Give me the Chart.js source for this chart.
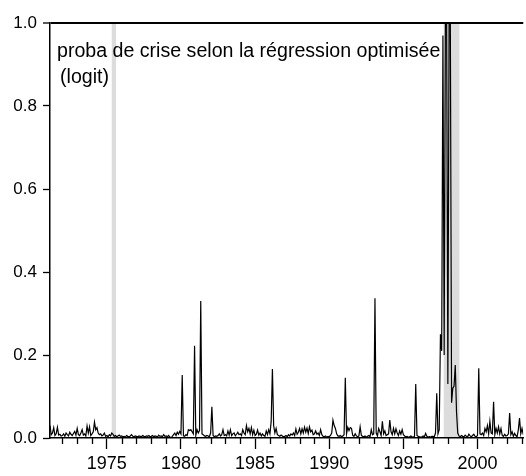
<!DOCTYPE html>
<html>
<head>
<meta charset="utf-8">
<script src="https://cdn.jsdelivr.net/npm/chart.js@4"></script>
<style>
  html, body { margin: 0; padding: 0; background: #fff; overflow: hidden; }
  #wrap { width: 526px; height: 476px; position: relative; }
</style>
</head>
<body>
<div id="wrap"><canvas id="chart"></canvas></div>
<script>
// monthly series, first observation 1971m03
const startYear = 1971;
const startMonth = 3;

const proba = [
  /* 1971 m03-m12 */ 0.030, 0.008, 0.012, 0.025, 0.006, 0.010, 0.026, 0.007, 0.009, 0.005,
  /* 1972 */ 0.006, 0.010, 0.004, 0.012, 0.008, 0.005, 0.014, 0.009, 0.006, 0.011, 0.016, 0.007,
  /* 1973 */ 0.023, 0.008, 0.006, 0.012, 0.020, 0.007, 0.010, 0.005, 0.029, 0.012, 0.027, 0.006,
  /* 1974 */ 0.010, 0.015, 0.038, 0.020, 0.025, 0.012, 0.008, 0.010, 0.005, 0.007, 0.012, 0.004,
  /* 1975 */ 0.006, 0.003, 0.008, 0.005, 0.012, 0.009, 0.004, 0.006, 0.003, 0.005, 0.007, 0.004,
  /* 1976 */ 0.005, 0.003, 0.004, 0.002, 0.006, 0.004, 0.003, 0.005, 0.008, 0.004, 0.003, 0.005,
  /* 1977 */ 0.004, 0.003, 0.005, 0.004, 0.003, 0.006, 0.004, 0.003, 0.005, 0.004, 0.006, 0.003,
  /* 1978 */ 0.004, 0.006, 0.003, 0.005, 0.004, 0.003, 0.007, 0.004, 0.005, 0.003, 0.008, 0.004,
  /* 1979 */ 0.005, 0.003, 0.006, 0.002, 0.001, 0.004, 0.008, 0.012, 0.006, 0.014, 0.009, 0.016,
  /* 1980 */ 0.010, 0.152, 0.005, 0.004, 0.008, 0.006, 0.020, 0.018, 0.020, 0.015, 0.010, 0.222,
  /* 1981 */ 0.006, 0.020, 0.012, 0.018, 0.330, 0.010, 0.008, 0.005, 0.004, 0.006, 0.005, 0.003,
  /* 1982 */ 0.012, 0.075, 0.006, 0.003, 0.005, 0.004, 0.006, 0.010, 0.005, 0.008, 0.020, 0.006,
  /* 1983 */ 0.008, 0.005, 0.017, 0.007, 0.020, 0.006, 0.010, 0.012, 0.005, 0.009, 0.014, 0.008,
  /* 1984 */ 0.010, 0.006, 0.020, 0.012, 0.008, 0.030, 0.015, 0.023, 0.010, 0.025, 0.008, 0.019,
  /* 1985 */ 0.006, 0.009, 0.019, 0.007, 0.012, 0.005, 0.010, 0.006, 0.004, 0.017, 0.008, 0.020,
  /* 1986 */ 0.010, 0.040, 0.166, 0.030, 0.012, 0.023, 0.008, 0.006, 0.004, 0.007, 0.005, 0.003,
  /* 1987 */ 0.004, 0.006, 0.003, 0.008, 0.005, 0.010, 0.007, 0.012, 0.006, 0.022, 0.009, 0.014,
  /* 1988 */ 0.023, 0.010, 0.022, 0.012, 0.026, 0.014, 0.024, 0.011, 0.027, 0.015, 0.019, 0.008,
  /* 1989 */ 0.010, 0.017, 0.009, 0.012, 0.006, 0.020, 0.008, 0.004, 0.003, 0.005, 0.002, 0.004,
  /* 1990 */ 0.003, 0.006, 0.012, 0.043, 0.030, 0.023, 0.010, 0.005, 0.004, 0.006, 0.003, 0.005,
  /* 1991 */ 0.008, 0.145, 0.010, 0.026, 0.018, 0.025, 0.023, 0.006, 0.004, 0.010, 0.005, 0.003,
  /* 1992 */ 0.005, 0.027, 0.006, 0.004, 0.003, 0.005, 0.002, 0.004, 0.006, 0.003, 0.020, 0.008,
  /* 1993 */ 0.010, 0.337, 0.012, 0.005, 0.023, 0.015, 0.006, 0.040, 0.010, 0.017, 0.006, 0.008,
  /* 1994 */ 0.010, 0.043, 0.015, 0.008, 0.023, 0.010, 0.022, 0.012, 0.006, 0.017, 0.009, 0.020,
  /* 1995 */ 0.008, 0.005, 0.003, 0.004, 0.002, 0.003, 0.005, 0.003, 0.002, 0.004, 0.130, 0.006,
  /* 1996 */ 0.004, 0.003, 0.002, 0.003, 0.005, 0.003, 0.011, 0.004, 0.002, 0.003, 0.002, 0.004,
  /* 1997 */ 0.004, 0.003, 0.012, 0.108, 0.010, 0.020, 0.250, 0.210, 0.970, 0.200, 1.000, 1.000,
  /* 1998 */ 0.130, 1.000, 1.000, 0.085, 0.120, 0.125, 0.176, 0.063, 0.012, 0.005, 0.003, 0.006,
  /* 1999 */ 0.004, 0.003, 0.007, 0.004, 0.003, 0.009, 0.005, 0.003, 0.006, 0.009, 0.004, 0.003,
  /* 2000 */ 0.006, 0.168, 0.010, 0.008, 0.012, 0.006, 0.023, 0.015, 0.030, 0.010, 0.040, 0.012,
  /* 2001 */ 0.010, 0.087, 0.008, 0.023, 0.012, 0.027, 0.010, 0.023, 0.006, 0.004, 0.009, 0.005,
  /* 2002 */ 0.006, 0.010, 0.060, 0.008, 0.015, 0.004, 0.011, 0.006, 0.003, 0.019, 0.048, 0.010,
  /* 2003 m01-m02 */ 0.023, 0.008
];

// crisis periods (shaded), in decimal years
const crisisStart = [1975.33, 1997.72];
const crisisEnd   = [1975.62, 1998.78];

const yTicks = [0, 0.2, 0.4, 0.6, 0.8, 1.0];
const legendLines = ["proba de crise selon la régression optimisée", "(logit)"];

const points = proba.map((v, i) => ({ x: startYear + (startMonth - 1 + i) / 12, y: v }));
const xMin = points[0].x;
const xMax = points[points.length - 1].x;

Chart.defaults.font.family = "'Liberation Sans', Arial, sans-serif";
Chart.defaults.font.size = 18;
Chart.defaults.color = "#000";

// grey bands behind everything
const bandsPlugin = {
  id: "bands",
  beforeDraw(chart) {
    const { ctx, chartArea } = chart;
    const xs = chart.scales.x;
    ctx.save();
    ctx.fillStyle = "#dcdcdc";
    crisisStart.forEach((s, i) => {
      const x0 = xs.getPixelForValue(s);
      const x1 = xs.getPixelForValue(crisisEnd[i]);
      ctx.fillRect(x0, chartArea.top, x1 - x0, chartArea.bottom - chartArea.top);
    });
    ctx.restore();
  }
};

// short yearly ticks + legend text
const extrasPlugin = {
  id: "extras",
  afterDraw(chart) {
    const { ctx, chartArea } = chart;
    const xs = chart.scales.x;
    ctx.save();
    ctx.strokeStyle = "#000";
    ctx.lineWidth = 1.3;
    for (let yr = Math.ceil(xMin); yr <= Math.floor(xMax); yr++) {
      if (yr % 5 === 0) continue;
      const x = Math.round(xs.getPixelForValue(yr)) + 0.5;
      ctx.beginPath();
      ctx.moveTo(x, chartArea.bottom);
      ctx.lineTo(x, chartArea.bottom + 6);
      ctx.stroke();
    }
    ctx.fillStyle = "#000";
    ctx.font = "19.6px 'Liberation Sans', Arial, sans-serif";
    ctx.textBaseline = "alphabetic";
    ctx.fillText(legendLines[0], chartArea.left + 7, chartArea.top + 34);
    ctx.fillText(legendLines[1], chartArea.left + 10, chartArea.top + 60);
    ctx.restore();
  }
};

new Chart(document.getElementById("chart"), {
  type: "line",
  data: {
    datasets: [{
      data: points,
      borderColor: "#000",
      borderWidth: 1.2,
      pointRadius: 0,
      tension: 0,
      fill: false
    }]
  },
  options: {
    responsive: true,
    maintainAspectRatio: false,
    animation: false,
    layout: { padding: { top: 23, right: 0, left: 0, bottom: 0 } },
    plugins: { legend: { display: false }, tooltip: { enabled: false } },
    scales: {
      x: {
        type: "linear",
        min: xMin,
        max: xMax,
        afterFit: (s) => { s.height = 38; },
        ticks: {
          stepSize: 1,
          includeBounds: false,
          autoSkip: false,
          maxRotation: 0,
          padding: 4,
          callback: (v) => (v % 5 === 0 ? String(v) : "")
        },
        grid: {
          drawOnChartArea: false,
          tickLength: 11,
          tickWidth: 1.3,
          tickColor: (c) => (c.tick && c.tick.value % 5 === 0 ? "#000" : "rgba(0,0,0,0)")
        },
        border: { display: true, color: "#000", width: 1.5 }
      },
      y: {
        min: 0,
        max: 1,
        afterFit: (s) => { s.width = 50; },
        afterBuildTicks: (s) => { s.ticks = yTicks.map(v => ({ value: v })); },
        ticks: {
          padding: 6,
          font: { size: 17 },
          callback: (v) => Number(v).toFixed(1)
        },
        grid: {
          drawOnChartArea: true,
          tickLength: 7,
          tickColor: "#000",
          tickWidth: 1.3,
          color: (c) => (c.tick && Math.abs(c.tick.value - 1) < 1e-9 ? "#000" : "rgba(0,0,0,0)"),
          lineWidth: (c) => (c.tick && Math.abs(c.tick.value - 1) < 1e-9 ? 2 : 1)
        },
        border: { display: true, color: "#000", width: 1.5 }
      }
    }
  },
  plugins: [bandsPlugin, extrasPlugin]
});
</script>
</body>
</html>
